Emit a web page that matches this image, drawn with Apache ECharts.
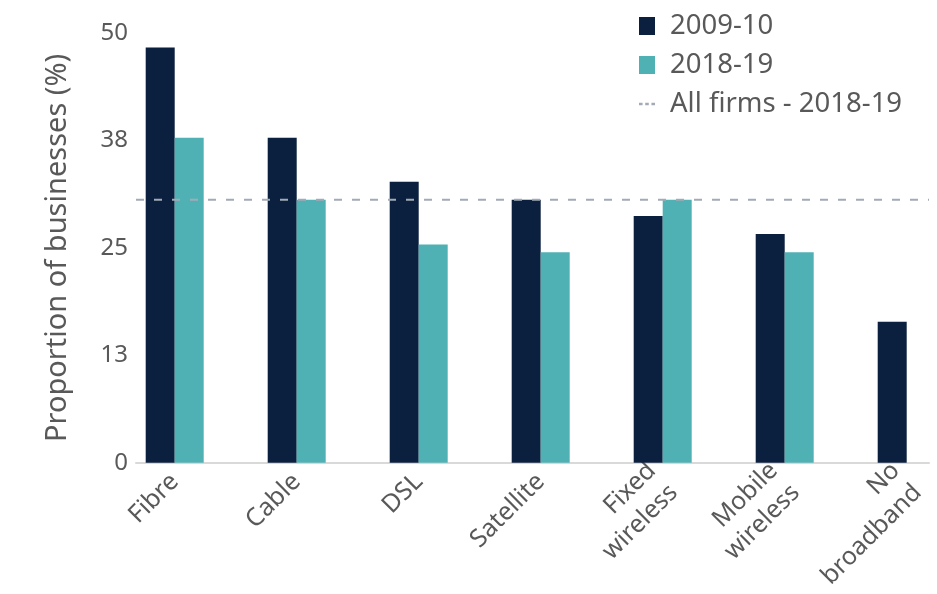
<!DOCTYPE html>
<html>
<head>
<meta charset="utf-8">
<script src="https://cdn.jsdelivr.net/npm/echarts@6/dist/echarts.min.js"></script>
<style>
  html, body { margin: 0; padding: 0; background: #ffffff; }
  #chart { width: 937px; height: 594px; }
</style>
</head>
<body>
<div id="chart"></div>
<script>
// Broadband connection type, share of businesses (%)
const categories = ['Fibre', 'Cable', 'DSL', 'Satellite', 'Fixed\nwireless', 'Mobile\nwireless', 'No\nbroadband'];
const values2009 = [48.3, 37.8, 32.7, 30.6, 28.7, 26.6, 16.4];
const values2018 = [37.8, 30.6, 25.4, 24.5, 30.6, 24.5, null];
const allFirms2018 = 30.6;
const yTicks = [0, 12.5, 25, 37.5, 50];

const FONT = '"Noto Sans", "Open Sans", sans-serif';
const TEXT = '#595959';
const NAVY = '#0B1F3E';
const TEAL = '#50B1B4';
const DASH = '#A3AAB6';

// two-line labels hang a little lower under their tick
const categoryItems = categories.map(c =>
  c.indexOf('\n') >= 0 ? { value: c, textStyle: { padding: [22, 0, 0, 0] } } : c
);

const chart = echarts.init(document.getElementById('chart'), null, { renderer: 'canvas' });

chart.setOption({
  animation: false,
  backgroundColor: '#ffffff',
  textStyle: { fontFamily: FONT },
  grid: [
    // bar grid: seven equal category bands, the last one running past the right edge
    { left: 113.7, width: 854, top: 33, bottom: 131.3, containLabel: false, outerBoundsMode: 'none' },
    // baseline / reference-line grid
    { left: 136, right: 8, top: 33, bottom: 131.3, containLabel: false, outerBoundsMode: 'none' }
  ],
  legend: {
    orient: 'vertical',
    left: 639,
    top: 12,
    padding: 0,
    itemWidth: 16,
    itemHeight: 18,
    itemGap: 11,
    symbolKeepAspect: true,
    textStyle: { fontFamily: FONT, fontSize: 27.5, color: TEXT, lineHeight: 26, padding: [0, 0, 0, 10] },
    data: [
      { name: '2009-10', icon: 'rect' },
      { name: '2018-19', icon: 'rect' },
      {
        name: 'All firms - 2018-19',
        icon: 'path://M0,0h4v3h-4z M7,0h4v3h-4z M14,0h4v3h-4z',
        itemStyle: { color: DASH }
      }
    ]
  },
  xAxis: [
    {
      type: 'category',
      gridIndex: 0,
      data: categoryItems,
      axisLine: { show: false },
      axisTick: { show: false },
      axisLabel: {
        rotate: 45,
        margin: 15,
        interval: 0,
        fontFamily: FONT,
        fontSize: 25,
        lineHeight: 31,
        color: TEXT
      }
    },
    {
      type: 'value',
      gridIndex: 1,
      min: 0,
      max: 1,
      axisLine: { show: true, onZero: false, lineStyle: { color: '#D9D9D9', width: 2 } },
      axisTick: { show: false },
      axisLabel: { show: false },
      splitLine: { show: false }
    }
  ],
  yAxis: [
    {
      type: 'value',
      gridIndex: 0,
      min: yTicks[0],
      max: yTicks[yTicks.length - 1],
      interval: yTicks[1] - yTicks[0],
      offset: -22.3,
      axisLine: { show: false },
      axisTick: { show: false },
      splitLine: { show: false },
      axisLabel: {
        margin: 8,
        fontFamily: FONT,
        fontSize: 24,
        color: TEXT,
        formatter: v => String(Math.round(v))
      },
      name: 'Proportion of businesses (%)',
      nameLocation: 'middle',
      nameGap: 64,
      nameTextStyle: { fontFamily: FONT, fontSize: 29, color: TEXT }
    },
    {
      type: 'value',
      gridIndex: 1,
      min: yTicks[0],
      max: yTicks[yTicks.length - 1],
      show: false
    }
  ],
  series: [
    {
      name: '2009-10',
      type: 'bar',
      xAxisIndex: 0,
      yAxisIndex: 0,
      data: values2009,
      barWidth: 29,
      barGap: '0%',
      itemStyle: { color: NAVY }
    },
    {
      name: '2018-19',
      type: 'bar',
      xAxisIndex: 0,
      yAxisIndex: 0,
      data: values2018,
      barWidth: 29,
      barGap: '0%',
      itemStyle: { color: TEAL }
    },
    {
      name: 'All firms - 2018-19',
      type: 'line',
      xAxisIndex: 1,
      yAxisIndex: 1,
      z: 5,
      symbol: 'none',
      data: [[0, allFirms2018], [1, allFirms2018]],
      lineStyle: { type: [8, 10], width: 2, color: DASH },
      itemStyle: { color: DASH }
    }
  ]
});
</script>
</body>
</html>
